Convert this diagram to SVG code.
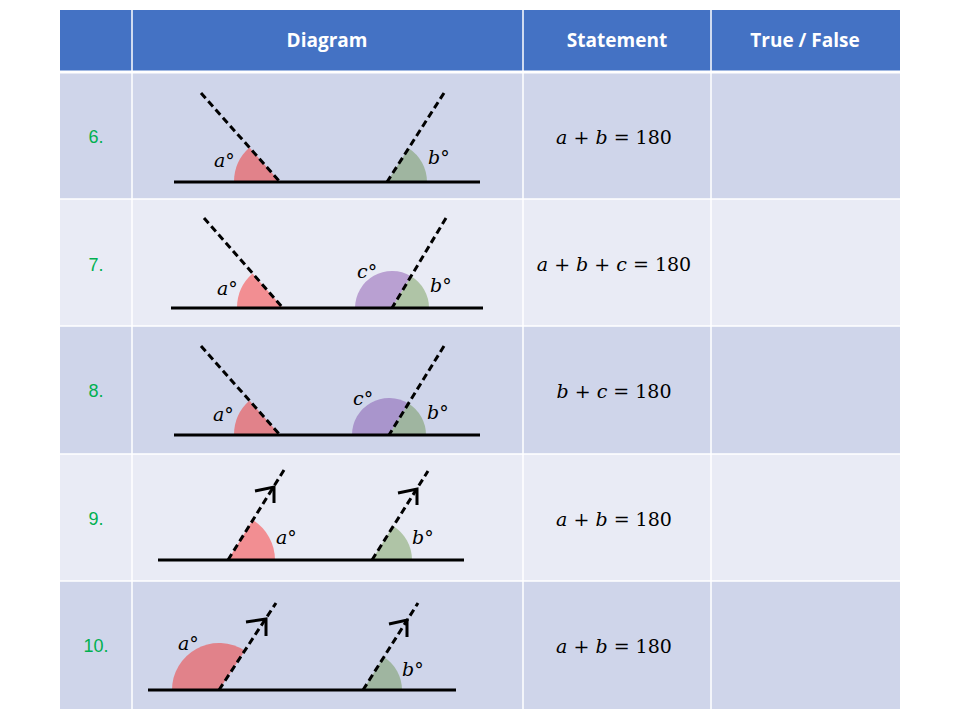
<svg xmlns="http://www.w3.org/2000/svg" width="960" height="720" viewBox="0 0 960 720">
<style>
.hd{fill:#4472C4}.dk{fill:#CFD5EA}.lt{fill:#E9EBF5}
.ht{font-family:"Open Sans","Liberation Sans",sans-serif;font-weight:bold;font-size:19px;fill:#fff;text-anchor:middle}
.num{font-family:"Liberation Sans",sans-serif;font-size:18px;fill:#00B050;text-anchor:middle}
.st{font-family:"DejaVu Serif","Liberation Serif",serif;font-size:19px;fill:#000;text-anchor:middle}
.v{font-style:italic}
.lb{font-family:"DejaVu Serif","Liberation Serif",serif;font-style:italic;font-size:19px;fill:#000}
.base{stroke:#000;stroke-width:3}
.dash{stroke:#000;stroke-width:3;stroke-dasharray:7 4;fill:none}
.arr{stroke:#000;stroke-width:3;fill:none}
.rd{fill:#E1828A}.rl{fill:#F28E92}.gd{fill:#9FB5A0}.gl{fill:#AFC4A6}.pd{fill:#A995CC}.pl{fill:#B9A0D2}
</style>
<rect width="960" height="720" fill="#fff"/>
<g id="table">
<rect class="hd" x="60" y="10" width="840" height="62"/>
<rect class="dk" x="60" y="72" width="840" height="127"/>
<rect class="lt" x="60" y="199" width="840" height="127"/>
<rect class="dk" x="60" y="326" width="840" height="128"/>
<rect class="lt" x="60" y="454" width="840" height="127"/>
<rect class="dk" x="60" y="581" width="840" height="128"/>
<g stroke="#fff" stroke-width="1.5">
<line x1="132" y1="10" x2="132" y2="709"/><line x1="523" y1="10" x2="523" y2="709"/><line x1="711" y1="10" x2="711" y2="709"/>
<line x1="60" y1="72" x2="900" y2="72" stroke-width="3"/><line x1="60" y1="199" x2="900" y2="199"/><line x1="60" y1="326" x2="900" y2="326"/><line x1="60" y1="454" x2="900" y2="454"/><line x1="60" y1="581" x2="900" y2="581"/>
</g>
<text class="ht" x="327" y="47">Diagram</text>
<text class="ht" x="617" y="47">Statement</text>
<text class="ht" x="805" y="47">True / False</text>
<text class="num" x="96" y="143">6.</text>
<text class="num" x="96" y="271">7.</text>
<text class="num" x="96" y="397">8.</text>
<text class="num" x="96" y="525">9.</text>
<text class="num" x="96" y="652">10.</text>
<text class="st" x="614" y="144"><tspan class="v">a</tspan> + <tspan class="v">b</tspan> = 180</text>
<text class="st" x="614" y="271"><tspan class="v">a</tspan> + <tspan class="v">b</tspan> + <tspan class="v">c</tspan> = 180</text>
<text class="st" x="614" y="398"><tspan class="v">b</tspan> + <tspan class="v">c</tspan> = 180</text>
<text class="st" x="614" y="526"><tspan class="v">a</tspan> + <tspan class="v">b</tspan> = 180</text>
<text class="st" x="614" y="653"><tspan class="v">a</tspan> + <tspan class="v">b</tspan> = 180</text>
</g>
<g id="row6">
<path class="rd" d="M280,182 L234,182 A46,46 0 0 1 249.5,147.6 Z"/>
<path class="gd" d="M387,182 L427,182 A40,40 0 0 0 408.6,148.3 Z"/>
<line class="base" x1="174" y1="182" x2="480" y2="182"/>
<line class="dash" x1="201" y1="93" x2="280" y2="182"/>
<line class="dash" x1="444" y1="93" x2="387" y2="182"/>
<text class="lb" x="214" y="167">a°</text><text class="lb" x="428" y="164">b°</text>
</g>
<g id="row7">
<path class="rl" d="M283,308 L237,308 A46,46 0 0 1 252.5,273.6 Z"/>
<path class="pl" d="M392,308 L355,308 A37,37 0 0 1 411,276.3 Z"/>
<path class="gl" d="M392,308 L429,308 A37,37 0 0 0 411,276.3 Z"/>
<line class="base" x1="171" y1="308" x2="483" y2="308"/>
<line class="dash" x1="204" y1="218" x2="283" y2="308"/>
<line class="dash" x1="446" y1="218" x2="392" y2="308"/>
<text class="lb" x="217" y="295">a°</text><text class="lb" x="357" y="278">c°</text><text class="lb" x="430" y="292">b°</text>
</g>
<g id="row8">
<path class="rd" d="M280,435 L234,435 A46,46 0 0 1 249.5,400.6 Z"/>
<path class="pd" d="M389,435 L352,435 A37,37 0 0 1 408.5,403.5 Z"/>
<path class="gd" d="M389,435 L426,435 A37,37 0 0 0 408.5,403.5 Z"/>
<line class="base" x1="174" y1="435" x2="480" y2="435"/>
<line class="dash" x1="201" y1="346" x2="280" y2="435"/>
<line class="dash" x1="444" y1="346" x2="389" y2="435"/>
<text class="lb" x="213" y="421">a°</text><text class="lb" x="353" y="405">c°</text><text class="lb" x="427" y="419">b°</text>
</g>
<g id="row9">
<path class="rl" d="M228,560 L275,560 A47,47 0 0 0 252.8,520.1 Z"/>
<path class="gl" d="M372,560 L412,560 A40,40 0 0 0 393.1,526 Z"/>
<line class="base" x1="158" y1="560" x2="464" y2="560"/>
<line class="dash" x1="228" y1="560" x2="284" y2="470"/>
<line class="dash" x1="372" y1="560" x2="428" y2="471"/>
<polyline class="arr" points="255,491 274,487 274,503"/>
<polyline class="arr" points="398,493 417,489 417,505"/>
<text class="lb" x="276" y="544">a°</text><text class="lb" x="412" y="544">b°</text>
</g>
<g id="row10">
<path class="rd" d="M219,690 L172,690 A47,47 0 0 1 244.8,650.7 Z"/>
<path class="gd" d="M363,690 L402,690 A39,39 0 0 0 383.8,657 Z"/>
<line class="base" x1="148" y1="690" x2="456" y2="690"/>
<line class="dash" x1="219" y1="690" x2="276" y2="603"/>
<line class="dash" x1="363" y1="690" x2="418" y2="603"/>
<polyline class="arr" points="246,622 266,619 266,636"/>
<polyline class="arr" points="389,624 407,620 407,637"/>
<text class="lb" x="178" y="650">a°</text><text class="lb" x="402" y="676">b°</text>
</g>
</svg>
